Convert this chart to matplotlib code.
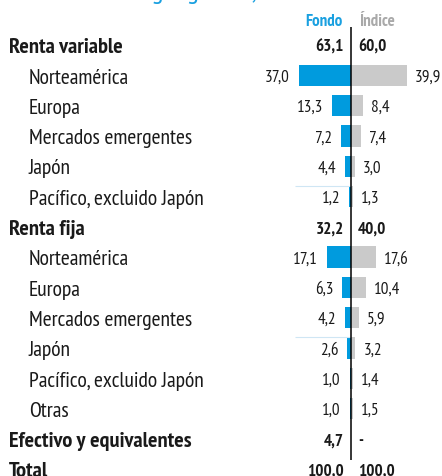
import matplotlib
matplotlib.use("Agg")
import matplotlib.pyplot as plt

# --- data -------------------------------------------------------------------
categories = [
    "Renta variable", "Norteamérica", "Europa", "Mercados emergentes", "Japón",
    "Pacífico, excluido Japón", "Renta fija", "Norteamérica", "Europa",
    "Mercados emergentes", "Japón", "Pacífico, excluido Japón", "Otras",
    "Efectivo y equivalentes", "Total",
]
level = [0, 1, 1, 1, 1, 1, 0, 1, 1, 1, 1, 1, 1, 0, 0]
fondo = [63.1, 37.0, 13.3, 7.2, 4.4, 1.2, 32.2, 17.1, 6.3, 4.2, 2.6, 1.0, 1.0, 4.7, 100.0]
indice = [60.0, 39.9, 8.4, 7.4, 3.0, 1.3, 40.0, 17.6, 10.4, 5.9, 3.2, 1.4, 1.5, None, 100.0]

title = "Distribución geográfica, %"
header_fondo = "Fondo"
header_indice = "Índice"

# --- style ------------------------------------------------------------------
plt.rcParams["font.family"] = ["PT Sans Narrow", "Fira Sans Condensed", "DejaVu Sans"]

BLUE = "#009bde"
GREY = "#cacaca"
TITLE_BLUE = "#1aa0e0"
HEAD_GREY = "#a9a9a9"
TXT = "#1a1a1a"

W, H = 442, 477
PX_PER_UNIT = 1.405   # bar scale, pixels per percentage point
ZERO_PX = 351         # x of the centre line
ROW0_PX = 46          # y of first row centre
ROW_PX = 30.3         # row spacing


def fmt(v):
    return "-" if v is None else f"{v:.1f}".replace(".", ",")


fig = plt.figure(figsize=(W / 100, H / 100), dpi=100)
ax = fig.add_axes([0, 0, 1, 1])
ax.set_xlim(-ZERO_PX / PX_PER_UNIT, (W - ZERO_PX) / PX_PER_UNIT)
ax.set_ylim((H - ROW0_PX) / ROW_PX, -ROW0_PX / ROW_PX)
ax.axis("off")

ytrans = ax.get_yaxis_transform()
gap = 6.3
cat_base = 0.24   # baseline offset below row centre (row units)
val_base = 0.18

for i, (cat, lv, f, idx) in enumerate(zip(categories, level, fondo, indice)):
    bold = lv == 0
    weight = "bold" if bold else "normal"
    xlab = 9 / W if bold else 29 / W
    ax.text(xlab, i + cat_base, cat, transform=ytrans, ha="left", va="baseline",
            fontsize=16.1 if bold else 15.6, fontweight=weight, color=TXT)

    if bold:
        fx, ix = -5.0, 5.0
    else:
        ax.barh(i, -f, height=0.7, color=BLUE, linewidth=0)
        ax.barh(i, idx, height=0.7, color=GREY, linewidth=0)
        fx, ix = -f - gap, idx + gap * 0.9
    ax.text(fx, i + val_base, fmt(f), ha="right", va="baseline", fontsize=12.3,
            fontweight=weight, color=TXT)
    ax.text(ix, i + val_base, fmt(idx), ha="left", va="baseline", fontsize=12.3,
            fontweight=weight, color=TXT)

# faint separators seen in the original
for r in [5, 10]:
    ax.hlines(r - 0.36, -40, 0, color="#cfe6f4", linewidth=0.8)

ax.vlines(0, -0.6, 13.7, color="black", linewidth=1.1)

ax.text(-5.7, -0.66, header_fondo, ha="right", va="baseline", fontsize=12.2,
        fontweight="bold", color=TITLE_BLUE)
ax.text(5.7, -0.66, header_indice, ha="left", va="baseline", fontsize=12.2,
        fontweight="bold", color=HEAD_GREY)

ax.text(30 / W, -1.535, title, transform=ytrans, ha="left", va="baseline",
        fontsize=20, color=TITLE_BLUE)

fig.savefig("out.png", dpi=100)
